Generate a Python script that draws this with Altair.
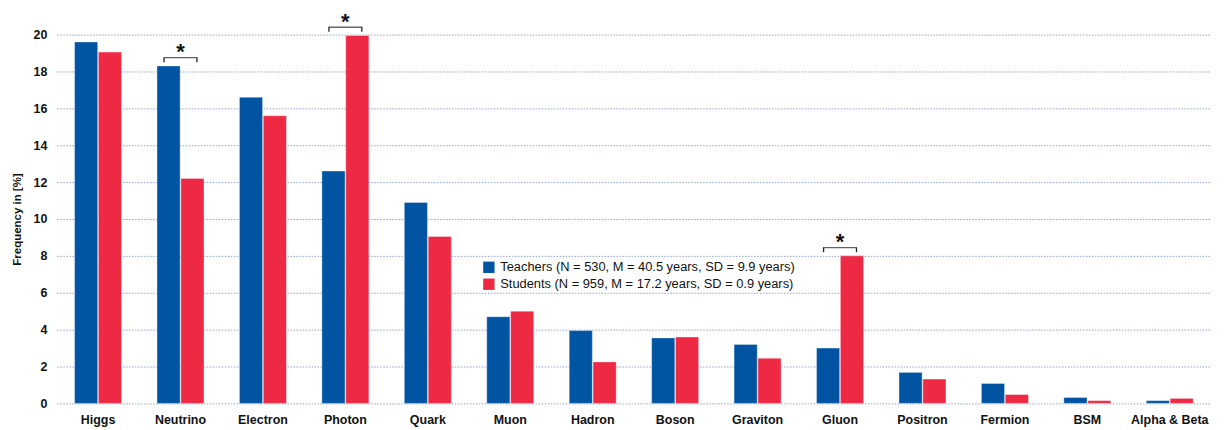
import altair as alt
import pandas as pd

categories = ["Higgs", "Neutrino", "Electron", "Photon", "Quark", "Muon", "Hadron",
              "Boson", "Graviton", "Gluon", "Positron", "Fermion", "BSM", "Alpha & Beta"]
teachers = [19.6, 18.3, 16.6, 12.6, 10.9, 4.7, 3.95, 3.55, 3.2, 3.0, 1.68, 1.08, 0.32, 0.15]
students = [19.05, 12.2, 15.6, 19.95, 9.05, 5.0, 2.25, 3.6, 2.45, 8.0, 1.32, 0.48, 0.15, 0.27]
series_names = ["Teachers (N = 530, M = 40.5 years, SD = 9.9 years)",
                "Students (N = 959, M = 17.2 years, SD = 0.9 years)"]
colors = ["#0054a2", "#ee2944"]
y_ticks = [0, 2, 4, 6, 8, 10, 12, 14, 16, 18, 20]

sig_categories = ["Neutrino", "Photon", "Gluon"]
sig_levels = [18.75, 20.4, 8.45]

rows = []
for c, t, s in zip(categories, teachers, students):
    rows.append({"cat": c, "series": series_names[0], "value": t})
    rows.append({"cat": c, "series": series_names[1], "value": s})
df = pd.DataFrame(rows)
sig = pd.DataFrame({"cat": sig_categories, "level": sig_levels})
sig["tip"] = sig["level"] - 0.25
sig["star"] = sig["level"] + 0.5

FONT = "Liberation Sans"

xscale = alt.Scale(domain=categories, paddingInner=0.43, paddingOuter=0.215)
yscale = alt.Scale(domain=[0, 20], nice=False, zero=True)

x_axis = alt.Axis(title=None, labelAngle=0, labelFont=FONT, labelFontWeight="bold",
                  labelFontSize=12.5, labelColor="#111", labelPadding=10,
                  domain=False, ticks=False, grid=False, labelLimit=200)
y_axis = alt.Axis(title="Frequency in [%]", values=y_ticks, tickCount=11,
                  labelOverlap=False,
                  titleFont=FONT, titleFontWeight="bold", titleFontSize=11.5,
                  titleColor="#111", titlePadding=11,
                  labelFont=FONT, labelFontWeight="bold", labelFontSize=12.5,
                  labelColor="#111", labelPadding=10,
                  domain=False, ticks=False,
                  grid=True, gridColor="#8fa3cc", gridDash=[1.5, 1.5],
                  gridWidth=1)

xs = alt.X("cat:N", scale=xscale, sort=categories, axis=x_axis)
ys = lambda f: alt.Y(f, scale=yscale, axis=y_axis)

bars = alt.Chart(df).mark_bar(stroke="white", strokeWidth=0.6, strokeOpacity=0.6).encode(
    x=xs,
    xOffset=alt.XOffset("series:N", sort=series_names,
                        scale=alt.Scale(domain=series_names, paddingInner=0.03)),
    y=ys("value:Q"),
    color=alt.Color("series:N", sort=series_names,
                    scale=alt.Scale(domain=series_names, range=colors),
                    legend=alt.Legend(title=None, orient="none", legendX=427, legendY=227,
                                      symbolType="square", symbolSize=130,
                                      symbolStrokeWidth=0, labelFont=FONT,
                                      labelFontSize=12.9, labelColor="#111",
                                      labelLimit=500,
                                      rowPadding=3, labelOffset=5,
                                      fillColor="white")),
)

bracket_top = alt.Chart(sig).mark_tick(orient="horizontal", size=34, thickness=1.3,
                                       color="#222").encode(x=xs, y=ys("level:Q"))
tip_left = alt.Chart(sig).mark_rule(xOffset=-16.5, strokeWidth=1.3, color="#222").encode(
    x=xs, y=ys("level:Q"), y2="tip:Q")
tip_right = alt.Chart(sig).mark_rule(xOffset=16.5, strokeWidth=1.3, color="#222").encode(
    x=xs, y=ys("level:Q"), y2="tip:Q")
stars = alt.Chart(sig).mark_text(text="*", font=FONT, fontWeight="bold", fontSize=22,
                                 baseline="middle", dy=4, color="#111").encode(
    x=xs, y=ys("star:Q"))

chart = alt.layer(bars, bracket_top, tip_left, tip_right, stars).properties(
    width=1158, height=370, background="white",
    padding={"left": 3, "top": 2, "right": 5, "bottom": 0}
).configure_view(stroke=None)

chart.save("out.html", embed_options={"renderer": "svg", "actions": False})
